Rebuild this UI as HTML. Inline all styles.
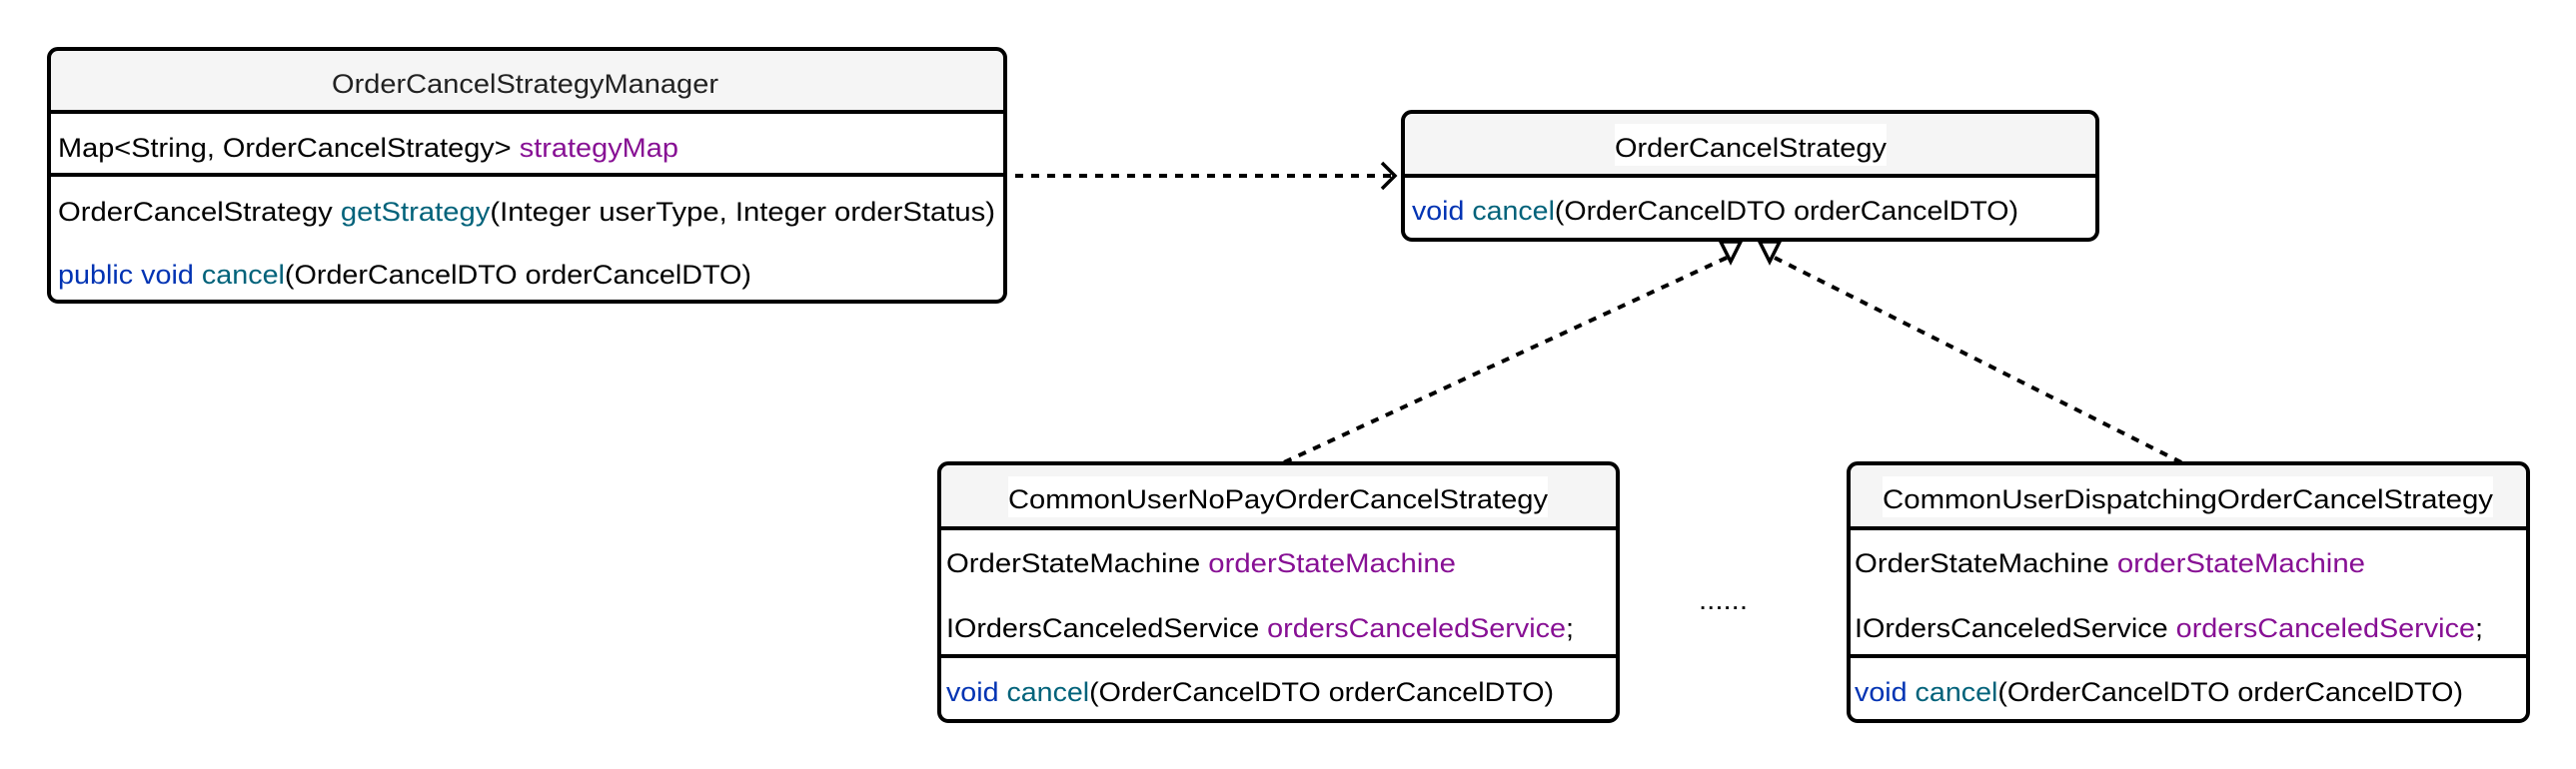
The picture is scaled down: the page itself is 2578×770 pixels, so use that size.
<!DOCTYPE html>
<html><head><meta charset="utf-8"><style>
html,body{margin:0;padding:0;background:#fff;}
svg{display:block;}
text{font-family:"Liberation Sans",sans-serif;font-size:27px;fill:#000;}
.k{fill:#0033b3}.m{fill:#00627a}.f{fill:#871094}
</style></head><body>
<svg width="2578" height="770" viewBox="0 0 2578 770" xmlns="http://www.w3.org/2000/svg">
<defs>
<clipPath id="c1"><rect x="49" y="49" width="957" height="253" rx="9"/></clipPath>
<clipPath id="c2"><rect x="1404" y="112" width="695" height="128" rx="9"/></clipPath>
<clipPath id="c3"><rect x="940" y="464" width="679" height="258" rx="9"/></clipPath>
<clipPath id="c4"><rect x="1850" y="464" width="680" height="258" rx="9"/></clipPath>
</defs>

<!-- Manager -->
<rect x="49" y="49" width="957" height="63" fill="#f5f5f5" clip-path="url(#c1)"/>
<rect x="49" y="49" width="957" height="253" rx="9" fill="none" stroke="#000" stroke-width="4"/>
<line x1="49" y1="112" x2="1006" y2="112" stroke="#000" stroke-width="4"/>
<line x1="49" y1="175" x2="1006" y2="175" stroke="#000" stroke-width="4"/>
<text x="332" y="93" textLength="387" lengthAdjust="spacingAndGlyphs" style="fill:#222">OrderCancelStrategyManager</text>
<text x="58" y="157" textLength="621" lengthAdjust="spacingAndGlyphs">Map&lt;String, OrderCancelStrategy&gt; <tspan class="f">strategyMap</tspan></text>
<text x="58" y="221" textLength="938" lengthAdjust="spacingAndGlyphs">OrderCancelStrategy <tspan class="m">getStrategy</tspan>(Integer userType, Integer orderStatus)</text>
<text x="58" y="284" textLength="694" lengthAdjust="spacingAndGlyphs"><tspan class="k">public void </tspan><tspan class="m">cancel</tspan>(OrderCancelDTO orderCancelDTO)</text>

<!-- Strategy interface -->
<rect x="1404" y="112" width="695" height="64" fill="#f5f5f5" clip-path="url(#c2)"/>
<rect x="1616" y="124" width="272" height="42" fill="#fff"/>
<rect x="1404" y="112" width="695" height="128" rx="9" fill="none" stroke="#000" stroke-width="4"/>
<line x1="1404" y1="176" x2="2099" y2="176" stroke="#000" stroke-width="4"/>
<text x="1616" y="157" textLength="272" lengthAdjust="spacingAndGlyphs">OrderCancelStrategy</text>
<text x="1413" y="220" textLength="607" lengthAdjust="spacingAndGlyphs"><tspan class="k">void </tspan><tspan class="m">cancel</tspan>(OrderCancelDTO orderCancelDTO)</text>

<!-- Dependency -->
<line x1="1016" y1="176" x2="1394" y2="176" stroke="#000" stroke-width="4" stroke-dasharray="8 8"/>
<polyline points="1383,163 1396,176 1383,189" fill="none" stroke="#000" stroke-width="3.5"/>

<!-- Realizations -->
<line x1="1728" y1="258" x2="1285" y2="463" stroke="#000" stroke-width="4" stroke-dasharray="8 8"/>
<line x1="1776" y1="258" x2="2183" y2="463" stroke="#000" stroke-width="4" stroke-dasharray="8 8"/>
<polygon points="1722,242 1742,242 1732,262" fill="#fff" stroke="#000" stroke-width="3.5"/>
<polygon points="1761,242 1781,242 1771,262" fill="#fff" stroke="#000" stroke-width="3.5"/>

<!-- Box A -->
<rect x="940" y="464" width="679" height="65" fill="#f5f5f5" clip-path="url(#c3)"/>
<rect x="1009" y="477" width="540" height="41" fill="#fff"/>
<rect x="940" y="464" width="679" height="258" rx="9" fill="none" stroke="#000" stroke-width="4"/>
<line x1="940" y1="529" x2="1619" y2="529" stroke="#000" stroke-width="4"/>
<line x1="940" y1="657" x2="1619" y2="657" stroke="#000" stroke-width="4"/>
<text x="1009" y="509" textLength="540" lengthAdjust="spacingAndGlyphs">CommonUserNoPayOrderCancelStrategy</text>
<text x="947" y="573" textLength="510" lengthAdjust="spacingAndGlyphs">OrderStateMachine <tspan class="f">orderStateMachine</tspan></text>
<text x="947" y="638" textLength="628" lengthAdjust="spacingAndGlyphs">IOrdersCanceledService <tspan class="f">ordersCanceledService</tspan>;</text>
<text x="947" y="702" textLength="608" lengthAdjust="spacingAndGlyphs"><tspan class="k">void </tspan><tspan class="m">cancel</tspan>(OrderCancelDTO orderCancelDTO)</text>

<text x="1700" y="610" textLength="49" lengthAdjust="spacingAndGlyphs">......</text>

<!-- Box B -->
<rect x="1850" y="464" width="680" height="65" fill="#f5f5f5" clip-path="url(#c4)"/>
<rect x="1884" y="477" width="611" height="41" fill="#fff"/>
<rect x="1850" y="464" width="680" height="258" rx="9" fill="none" stroke="#000" stroke-width="4"/>
<line x1="1850" y1="529" x2="2530" y2="529" stroke="#000" stroke-width="4"/>
<line x1="1850" y1="657" x2="2530" y2="657" stroke="#000" stroke-width="4"/>
<text x="1884" y="509" textLength="611" lengthAdjust="spacingAndGlyphs">CommonUserDispatchingOrderCancelStrategy</text>
<text x="1856" y="573" textLength="511" lengthAdjust="spacingAndGlyphs">OrderStateMachine <tspan class="f">orderStateMachine</tspan></text>
<text x="1856" y="638" textLength="629" lengthAdjust="spacingAndGlyphs">IOrdersCanceledService <tspan class="f">ordersCanceledService</tspan>;</text>
<text x="1856" y="702" textLength="609" lengthAdjust="spacingAndGlyphs"><tspan class="k">void </tspan><tspan class="m">cancel</tspan>(OrderCancelDTO orderCancelDTO)</text>
</svg>
</body></html>
